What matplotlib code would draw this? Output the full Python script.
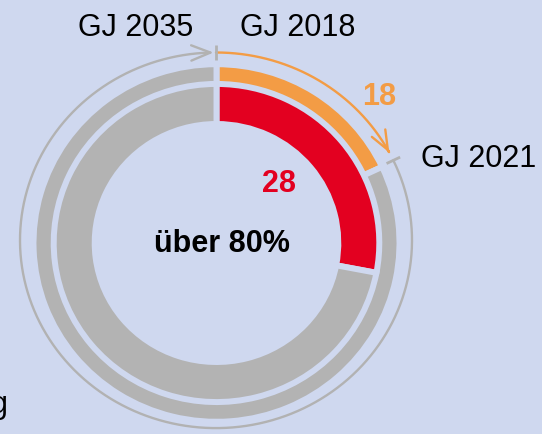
import numpy as np
import matplotlib.pyplot as plt
from matplotlib.patches import FancyArrowPatch
from matplotlib.path import Path

# ==============================
# CONFIG / DATA
# ==============================
OUTER_VALUES = [18, 82]      # GJ 2018 -> GJ 2021 vs. rest
INNER_VALUES = [28, 72]      # bis GJ 2035 vs. rest
OUTER_LABEL = "18"
INNER_LABEL = "28"
CENTER_LABEL = "über 80%"
YEAR_LABELS = ["GJ 2035", "GJ 2018", "GJ 2021"]

BG = "#cfd8ef"
RED = "#e30020"
ORANGE = "#f39c45"
GREY = "#b3b3b3"
LINE_GREY = "#b2b2b2"

W, H = 542, 434
CX, CY = 216.5, 243.0   # ring centre in pixels (from top)
SQ = 0.977              # vertical squash of the drawing

plt.rcParams["font.family"] = ["Liberation Sans", "DejaVu Sans"]


def fx(x):
    return x / W


def fy(y):
    return 1 - y / H


def main():
    fig = plt.figure(figsize=(W / 100, H / 100), dpi=100, facecolor=BG)
    ax = fig.add_axes([0, 0, 1, 1])
    ax.set_facecolor(BG)

    # --- rings
    gap = 4.3  # pt, background coloured edges -> gaps between segments
    ax.pie(OUTER_VALUES, colors=[ORANGE, GREY], radius=183, startangle=90,
           counterclock=False,
           wedgeprops=dict(width=21, edgecolor=BG, linewidth=gap))
    ax.pie(INNER_VALUES, colors=[RED, GREY], radius=162.8, startangle=90,
           counterclock=False,
           wedgeprops=dict(width=41, edgecolor=BG, linewidth=gap))

    ax.set_aspect("auto")
    ax.set_xlim(-CX, W - CX)
    ax.set_ylim(-(H - CY) / SQ, CY / SQ)
    ax.axis("off")

    # --- thin timeline ellipse with arrows
    ex, ey = -0.5, (CY - 240.3) / SQ
    rx, ry = 196.0, 187.8 / SQ
    t_split = 90 - 360 * OUTER_VALUES[0] / sum(OUTER_VALUES)

    def arc(t0, t1, n=300):
        t = np.radians(np.linspace(t0, t1, n))
        return np.column_stack([ex + rx * np.cos(t), ey + ry * np.sin(t)])

    style = "->, head_length=0.6, head_width=0.24"
    grey_arc = FancyArrowPatch(path=Path(arc(t_split, -269.3)), arrowstyle=style,
                               mutation_scale=23, color=LINE_GREY, lw=1.7)
    ax.add_patch(grey_arc)
    orange_arc = FancyArrowPatch(path=Path(arc(90, t_split + 2.6)), arrowstyle=style,
                                 mutation_scale=23, color=ORANGE, lw=1.7)
    ax.add_patch(orange_arc)

    # ticks at GJ 2018 / GJ 2021
    for t in [90, t_split]:
        c, s = np.cos(np.radians(t)), np.sin(np.radians(t))
        px, py = ex + rx * c, ey + ry * s
        ax.plot([px - 7.5 * c, px + 7.5 * c], [py - 7.5 * s / SQ, py + 7.5 * s / SQ],
                color=LINE_GREY, lw=2.0, solid_capstyle="butt")

    # --- texts
    fs = 22
    fig.text(fx(136), fy(36), YEAR_LABELS[0], ha="center", va="baseline", fontsize=fs)
    fig.text(fx(297.5), fy(36), YEAR_LABELS[1], ha="center", va="baseline", fontsize=fs)
    fig.text(fx(478.3), fy(166.7), YEAR_LABELS[2], ha="center", va="baseline", fontsize=fs)
    fig.text(fx(378.8), fy(105), OUTER_LABEL, ha="center", va="baseline",
             fontsize=fs, fontweight="bold", color=ORANGE)
    fig.text(fx(278.8), fy(191.7), INNER_LABEL, ha="center", va="baseline",
             fontsize=fs, fontweight="bold", color=RED)
    fig.text(fx(221.7), fy(251.7), CENTER_LABEL, ha="center", va="baseline",
             fontsize=fs, fontweight="bold")
    # cut-off word at the left edge (as in the source image)
    fig.text(fx(8), fy(413), "g", ha="right", va="baseline", fontsize=fs)

    fig.savefig("out.png", dpi=100, facecolor=BG)


if __name__ == "__main__":
    main()
